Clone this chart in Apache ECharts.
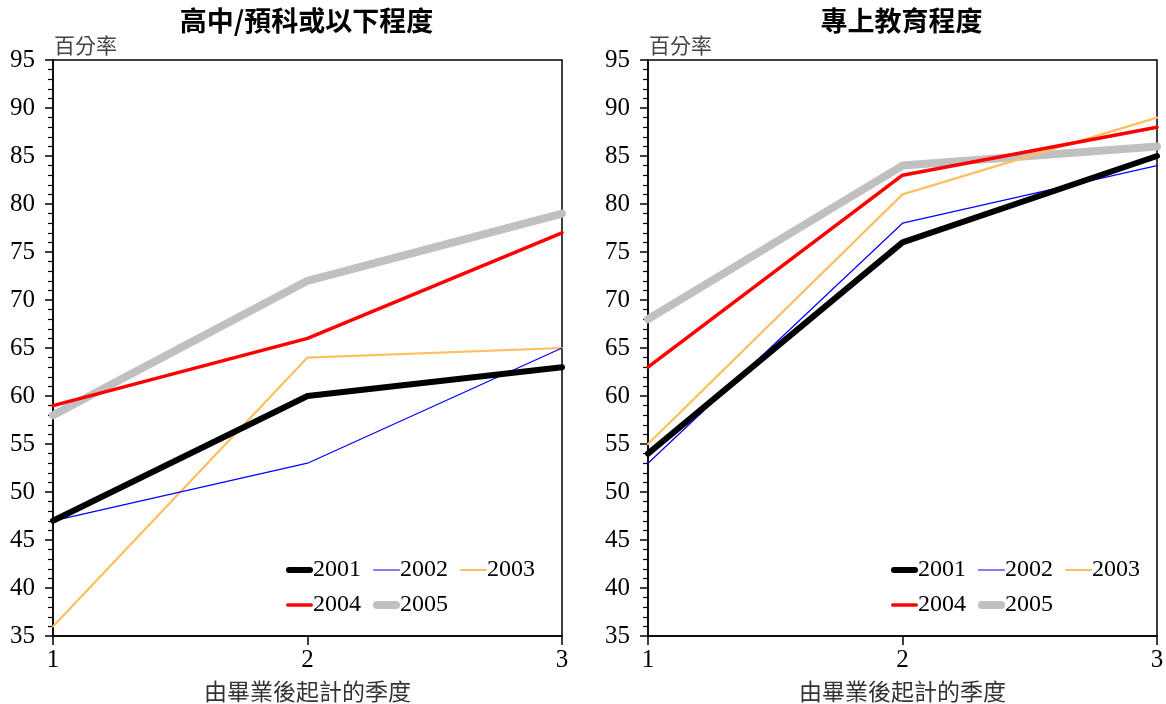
<!DOCTYPE html>
<html>
<head>
<meta charset="utf-8">
<script src="https://cdn.jsdelivr.net/npm/echarts@6/dist/echarts.min.js"></script>
<style>
  html, body { margin: 0; padding: 0; background: #fff; }
  #chart { width: 1166px; height: 704px; }
</style>
</head>
<body>
<div id="chart"></div>
<script>
// quarters after graduation
const quarters = [1, 2, 3];
const years = ["2001", "2002", "2003", "2004", "2005"];

// 高中/預科或以下程度
const secondary2001 = [47, 60, 63];
const secondary2002 = [47, 53, 65];
const secondary2003 = [36, 64, 65];
const secondary2004 = [59, 66, 77];
const secondary2005 = [58, 72, 79];

// 專上教育程度
const tertiary2001 = [54, 76, 85];
const tertiary2002 = [53, 78, 84];
const tertiary2003 = [55, 81, 89];
const tertiary2004 = [63, 83, 88];
const tertiary2005 = [68, 84, 86];

const panelTitles = ["高中/預科或以下程度", "專上教育程度"];
const yName = "百分率";
const xName = "由畢業後起計的季度";

const styles = {
  "2001": { color: "#000000", width: 6 },
  "2002": { color: "#0000ff", width: 1.2 },
  "2003": { color: "#ffbf5f", width: 2.2 },
  "2004": { color: "#ff0000", width: 3.5 },
  "2005": { color: "#c0c0c0", width: 8 }
};
// draw order, bottom to top
const drawOrder = ["2005", "2003", "2002", "2004", "2001"];

const panels = [
  { "2001": secondary2001, "2002": secondary2002, "2003": secondary2003, "2004": secondary2004, "2005": secondary2005 },
  { "2001": tertiary2001, "2002": tertiary2002, "2003": tertiary2003, "2004": tertiary2004, "2005": tertiary2005 }
];

const serif = "'Liberation Serif', 'Times New Roman', serif";
const cjk = "'Noto Sans CJK TC', 'Noto Sans CJK SC', sans-serif";

const gridLefts = [53, 648];
const gridW = 509;

// legend icon: a bar of the series' line width, rounded ends
function legendIcon(w) {
  const r = w / 2;
  return "path://M" + r + ",0 H" + (27 - r) + " A" + r + "," + r + " 0 0 1 " + (27 - r) + "," + w +
    " H" + r + " A" + r + "," + r + " 0 0 1 " + r + ",0 Z";
}

const chart = echarts.init(document.getElementById("chart"), null, { renderer: "canvas" });

const grid = [], xAxis = [], yAxis = [], series = [], title = [], legend = [];

panels.forEach((p, i) => {
  grid.push({
    left: gridLefts[i], top: 60, width: gridW, height: 576,
    outerBoundsMode: "none", containLabel: false,
    show: true, borderColor: "#000", borderWidth: 1.5, backgroundColor: "transparent"
  });
  title.push({
    text: panelTitles[i],
    left: gridLefts[i] + gridW / 2 - 6, top: 2, textAlign: "center",
    textStyle: { fontFamily: cjk, fontSize: 27, fontWeight: "bold", color: "#000" }
  });
  xAxis.push({
    type: "value", gridIndex: i, min: 1, max: 3, interval: 1,
    name: xName, nameLocation: "middle", nameGap: 44,
    nameTextStyle: { fontFamily: cjk, fontSize: 23, color: "#333" },
    axisLine: { lineStyle: { color: "#000", width: 1.5 } },
    axisTick: { show: true, inside: false, length: 9, lineStyle: { color: "#000", width: 1.5 } },
    axisLabel: { fontFamily: serif, fontSize: 25, color: "#000", margin: 12 },
    splitLine: { show: false }
  });
  yAxis.push({
    type: "value", gridIndex: i, min: 35, max: 95, interval: 5,
    name: yName, nameLocation: "end", nameGap: 4,
    nameTextStyle: { fontFamily: cjk, fontSize: 21, color: "#444", align: "left", padding: [0, 0, 0, 1] },
    axisLine: { show: true, lineStyle: { color: "#000", width: 1.5 } },
    axisTick: { show: true, inside: false, length: 8, lineStyle: { color: "#000", width: 1.5 } },
    minorTick: { show: true, splitNumber: 5, length: 5, lineStyle: { color: "#000", width: 1.2 } },
    axisLabel: { fontFamily: serif, fontSize: 25, color: "#000", margin: 18 },
    splitLine: { show: false }
  });
  drawOrder.forEach((y) => {
    series.push({
      name: y, type: "line", xAxisIndex: i, yAxisIndex: i,
      data: quarters.map((q, k) => [q, p[y][k]]),
      symbol: "none", clip: false, animation: false,
      lineStyle: { color: styles[y].color, width: styles[y].width, cap: "round", join: "round" },
      itemStyle: { color: styles[y].color }
    });
  });
  const legBase = {
    itemWidth: 27, itemHeight: 14, itemGap: 12,
    textStyle: { fontFamily: serif, fontSize: 24, color: "#000", padding: [0, 0, 0, -5] },
    selectedMode: false
  };
  const legData = (list) => list.map((y) => ({ name: y, icon: legendIcon(styles[y].width) }));
  const lx = i === 0 ? 281 : 886;
  legend.push(Object.assign({}, legBase, { data: legData(years.slice(0, 3)), left: lx, top: 553 }));
  legend.push(Object.assign({}, legBase, { data: legData(years.slice(3)), left: lx, top: 588 }));
});

chart.setOption({
  animation: false,
  backgroundColor: "#fff",
  title, grid, xAxis, yAxis, series, legend
});
</script>
</body>
</html>
